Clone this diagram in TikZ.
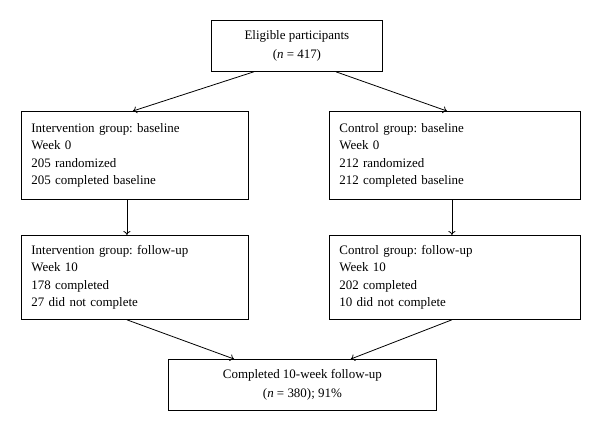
\documentclass[tikz,border=0pt]{standalone}
\usepackage{fontspec}
\setmainfont{Liberation Serif}
\usetikzlibrary{arrows.meta}
\begin{document}
\frenchspacing
\begin{tikzpicture}[x=1bp, y=-1bp, >={To[length=4bp, width=7bp]},
    box/.style={draw, line width=0.8bp, inner sep=10bp, anchor=north west, font=\fontsize{13}{17.3}\selectfont},
    groupbox/.style={box, align=left},
    sumbox/.style={box, align=center, minimum height=49bp}]
    \useasboundingbox (0,0) rectangle (600,429);
    % Nodes
    \node[sumbox, minimum width=171bp] (eligible) at (211,20) {Eligible participants\\[2bp](\textit{n} = 417)};

    \node[groupbox, text width=207bp, minimum height=88bp] (intbase) at (21,111) {Intervention group: baseline\\Week 0\\205 randomized\\205 completed baseline};
    \node[groupbox, text width=231bp, minimum height=88bp] (conbase) at (329,111) {Control group: baseline\\Week 0\\212 randomized\\212 completed baseline};

    \node[groupbox, text width=207bp, minimum height=84bp] (intfollow) at (21,235) {Intervention group: follow-up\\Week 10\\178 completed\\27 did not complete};
    \node[groupbox, text width=231bp, minimum height=84bp] (confollow) at (329,235) {Control group: follow-up\\Week 10\\202 completed\\10 did not complete};

    \node[sumbox, minimum width=268bp] (completed) at (168,359) {Completed 10-week follow-up\\[2bp](\textit{n} = 380); 91\%};
    % Connection
    \draw[->, line width=0.8bp] ([xshift=-43bp]eligible.south) -- ([xshift=-2bp]intbase.north);
    \draw[->, line width=0.8bp] ([xshift=39bp]eligible.south) -- ([xshift=-8bp]conbase.north);
    \draw[->, line width=0.8bp] ([xshift=-8bp]intbase.south) -- ([xshift=-8bp]intfollow.north);
    \draw[->, line width=0.8bp] ([xshift=-3bp]conbase.south) -- ([xshift=-3bp]confollow.north);
    \draw[->, line width=0.8bp] ([xshift=-8bp]intfollow.south) -- ([xshift=66bp]completed.north west);
    \draw[->, line width=0.8bp] ([xshift=-3bp]confollow.south) -- ([xshift=-86bp]completed.north east);
\end{tikzpicture}
\end{document}
